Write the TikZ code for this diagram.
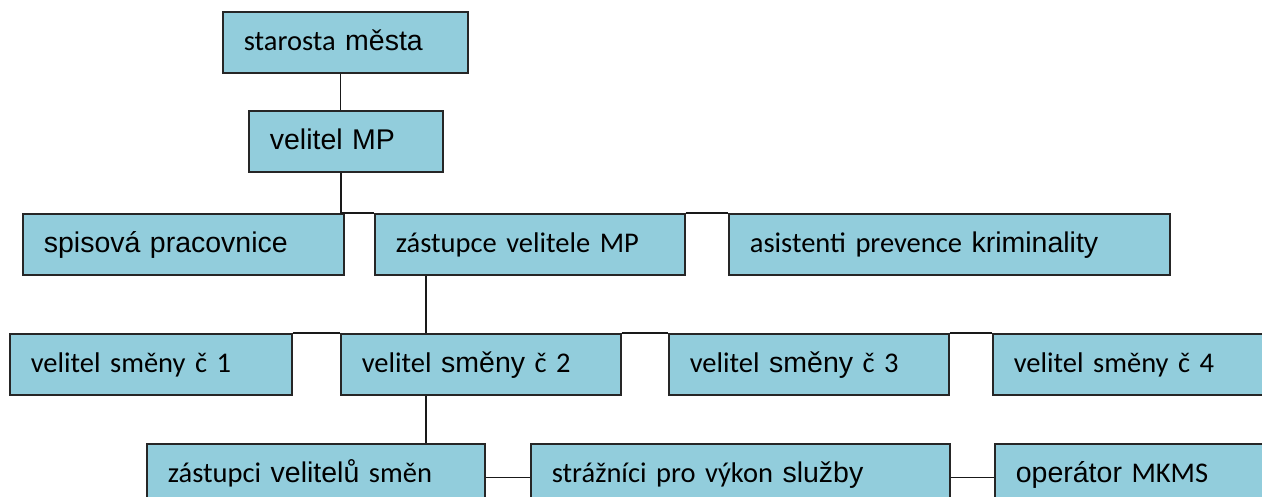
\documentclass[tikz,border=0pt]{standalone}
\usepackage{fontspec}
\setmainfont{Carlito}
\newfontfamily\arialf{Liberation Sans}
\usepackage{tikz}
\definecolor{boxfill}{HTML}{92CDDC}

\begin{document}
\begin{tikzpicture}[x=1pt,y=-1pt,
  box/.style={draw=black!85,line width=1.7pt,fill=boxfill,anchor=north west,
    inner xsep=21pt,inner ysep=0pt,minimum height=61pt,text width=#1,align=left,
    text height=22pt,text depth=6pt,font=\fontsize{28.5}{34}\selectfont},
  link/.style={line width=1.7pt,black!90}]
\useasboundingbox (0,0) rectangle (1262,497);
\clip (0,0) rectangle (1262,497);
\node[box=203pt] (starosta) at (222,11) {starosta {\arialf města}};
\node[box=152pt] (velitel) at (248,110) {\arialf velitel MP};
\node[box=279pt] (spisova) at (22,213) {\arialf spisová pracovnice};
\node[box=268pt] (zastupce) at (374,213) {zástupce velitele MP};
\node[box=399pt] (asistenti) at (728,213) {asistenti prevence {\arialf kriminality}};
\node[box=240pt] (smena1) at (9,333) {velitel směny č 1};
\node[box=238pt] (smena2) at (340,333) {velitel {\arialf směny} č 2};
\node[box=238pt] (smena3) at (668,333) {velitel {\arialf směny} č 3};
\node[box=248pt] (smena4) at (992,333) {velitel směny č 4};
\node[box=296pt] (zastupci) at (146,443) {zástupci {\arialf velitelů} směn};
\node[box=377pt] (straznici) at (530,443) {strážníci pro výkon {\arialf služby}};
\node[box=248pt] (operator) at (994,443) {{\arialf operátor} MKMS};
\draw[link] ([xshift=-5pt]starosta.south) -- ([xshift=-5pt]starosta.south |- velitel.north);
\draw[link] ([xshift=-5pt]velitel.south) |- (zastupce.north west);
\draw[link] (zastupce.north east) -- (asistenti.north west);
\draw[link] ([xshift=52pt]zastupce.south west) -- ([xshift=52pt]zastupce.south west |- smena2.north);
\draw[link] (smena1.north east) -- (smena2.north west);
\draw[link] (smena2.north east) -- (smena3.north west);
\draw[link] (smena3.north east) -- (smena4.north west);
\draw[link] ([xshift=86pt]smena2.south west) -- ([xshift=86pt]smena2.south west |- zastupci.north);
\draw[link] ([yshift=-3pt]zastupci.east) -- ([yshift=-3pt]straznici.west);
\draw[link] ([yshift=-3pt]straznici.east) -- ([yshift=-3pt]operator.west);
\end{tikzpicture}
\end{document}
